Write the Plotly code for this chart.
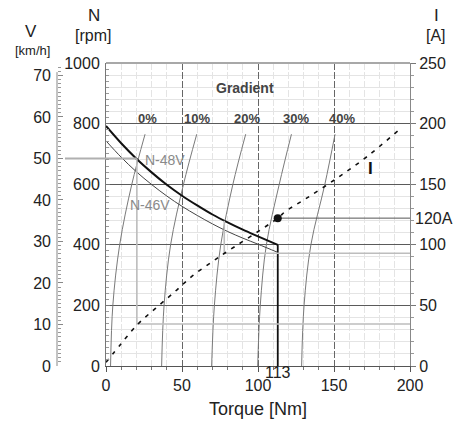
import plotly.graph_objects as go

# ---------------- data ----------------
TORQUE_TICKS = [0, 50, 100, 150, 200]
N_TICKS = [0, 200, 400, 600, 800, 1000]
I_TICKS = [0, 50, 100, 150, 200, 250]
V_TICKS = [0, 10, 20, 30, 40, 50, 60, 70]
N_MAX = 1000
I_MAX = 250
V_AT_NMAX = 73.0

# motor speed curves (torque Nm -> speed rpm)
N48_T = [0, 10, 20, 30, 40, 50, 60, 70, 80, 90, 100, 113]
N48_N = [792, 735, 684, 639, 598, 562, 530, 500, 474, 450, 428, 400]
N46_T = [0, 10, 20, 30, 40, 50, 60, 70, 80, 90, 100, 113]
N46_N = [743, 689, 641, 599, 561, 527, 497, 469, 444, 422, 402, 375]
STALL_T = [113, 113]
STALL_N = [400, 0]

# gradient (road load) curves: torque at given speed
GRAD_LABELS = ["0%", "10%", "20%", "30%", "40%"]
GRAD_N = [0, 200, 400, 600, 765]
GRAD_T = [
    [3.0, 4.5, 9.0, 17.0, 25.7],
    [36.6, 38.2, 42.5, 51.0, 59.7],
    [69.5, 71.3, 75.5, 83.5, 91.9],
    [99.8, 101.5, 105.5, 114.0, 122.0],
    [128.7, 130.3, 134.8, 144.0, 150.7],
]

# current curve (torque Nm -> current A)
I_T = [0, 10, 21, 33, 45, 57, 71, 78, 113, 118, 132, 152, 172, 192]
I_A = [3, 18.5, 34.6, 48, 61, 74.5, 87, 93, 122, 127.5, 138.5, 155, 173, 194]

# operating points
OP0_T, OP0_N, OP0_I, OP0_V = 20.3, 683, 34.6, 50
OP20_T, OP20_N, OP20_I = 77.8, 479, 93
OPMAX_T, OPMAX_I = 113, 122

# ---------------- layout geometry ----------------
W, H = 455, 421
ML, MR, MT, MB = 40, 45, 63, 55
PW = W - ML - MR
DOM0 = 66 / PW
VAXIS_POS = 17 / PW
FONT = "Liberation Sans, Arial, sans-serif"
I_PER_N = I_MAX / N_MAX

fig = go.Figure()

# helper lines for operating points (on current axis)
LIGHT = "#bdbdbd"
fig.add_trace(go.Scatter(x=[OP0_T, OP0_T, 200], y=[OP0_N * I_PER_N, OP0_I, OP0_I],
                         yaxis="y2", mode="lines", line=dict(color=LIGHT, width=1.6),
                         hoverinfo="skip"))
fig.add_trace(go.Scatter(x=[OP20_T, OP20_T, 200], y=[OP20_N * I_PER_N, OP20_I, OP20_I],
                         yaxis="y2", mode="lines", line=dict(color=LIGHT, width=1.6),
                         hoverinfo="skip"))
fig.add_trace(go.Scatter(x=[OPMAX_T, 200], y=[OPMAX_I, OPMAX_I], yaxis="y2",
                         mode="lines", line=dict(color="#555", width=1), hoverinfo="skip"))
# speed marker line on V axis
fig.add_trace(go.Scatter(x=[0, OP0_T], y=[OP0_V, OP0_V], yaxis="y3", mode="lines",
                         line=dict(color="#b0b0b0", width=2), hoverinfo="skip"))

# gradient curves
for t in GRAD_T:
    fig.add_trace(go.Scatter(x=t, y=GRAD_N, mode="lines", line=dict(color="#7a7a7a", width=1),
                             line_shape="spline", hoverinfo="skip"))

# current curve
fig.add_trace(go.Scatter(x=I_T, y=I_A, yaxis="y2", mode="lines", line_shape="spline",
                         line=dict(color="#111", width=1.6, dash="4px,6px"), hoverinfo="skip"))

# motor curves
fig.add_trace(go.Scatter(x=N46_T, y=N46_N, mode="lines", line_shape="spline",
                         line=dict(color="#444", width=1), hoverinfo="skip"))
fig.add_trace(go.Scatter(x=N48_T, y=N48_N, mode="lines", line_shape="spline",
                         line=dict(color="#111", width=2), hoverinfo="skip"))
fig.add_trace(go.Scatter(x=STALL_T, y=STALL_N, mode="lines",
                         line=dict(color="#111", width=1.8), hoverinfo="skip"))
fig.add_trace(go.Scatter(x=[OPMAX_T], y=[OPMAX_I], yaxis="y2", mode="markers",
                         marker=dict(color="#111", size=8), hoverinfo="skip"))

tickfont = dict(family=FONT, size=16, color="#222")
fig.update_layout(
    width=W, height=H, margin=dict(l=ML, r=MR, t=MT, b=MB, autoexpand=False),
    paper_bgcolor="white", plot_bgcolor="white", showlegend=False,
    font=dict(family=FONT, size=16, color="#222"),
    xaxis=dict(domain=[DOM0, 1], range=[0, 200], tickvals=TORQUE_TICKS,
               ticks="outside", ticklen=5, tickcolor="#555", tickfont=tickfont,
               showline=True, linecolor="#555", linewidth=1, zeroline=False,
               showgrid=True, gridcolor="#666", gridwidth=1, griddash="7px,2px",
               automargin=False,
               minor=dict(dtick=10, ticks="outside", ticklen=3, tickcolor="#777",
                          showgrid=True, gridcolor="#e4e4e4")),
    yaxis=dict(range=[0, N_MAX], tickvals=N_TICKS, ticks="inside", ticklen=4,
               tickcolor="#777", tickfont=tickfont, showline=True, linecolor="#777",
               zeroline=False, showgrid=True, gridcolor="#5a5a5a", gridwidth=1,
               ticklabelstandoff=2, automargin=False,
               minor=dict(dtick=20, ticks="inside", ticklen=3, tickcolor="#999",
                          showgrid=False)),
    yaxis2=dict(overlaying="y", side="right", anchor="x", range=[0, I_MAX],
                tickvals=I_TICKS, ticks="outside", ticklen=5, tickcolor="#777",
                tickfont=tickfont, showline=True, linecolor="#888", zeroline=False,
                showgrid=False, automargin=False,
                minor=dict(dtick=10, ticks="outside", ticklen=3, tickcolor="#999",
                           showgrid=True, gridcolor="#e4e4e4")),
    yaxis3=dict(overlaying="y", side="left", anchor="free", position=VAXIS_POS,
                range=[0, V_AT_NMAX], tickvals=V_TICKS, ticks="inside", ticklen=5,
                tickcolor="#888", tickfont=tickfont, showline=False, zeroline=False,
                showgrid=False, ticklabelstandoff=6, automargin=False,
                minor=dict(dtick=1, ticks="inside", ticklen=3, tickcolor="#999",
                           showgrid=False)),
)

shapes = [
    # top frame
    dict(type="line", xref="paper", yref="paper", x0=DOM0, x1=1, y0=1, y1=1,
         line=dict(color="#a8a8a8", width=2)),
    # V axis line
    dict(type="line", xref="paper", yref="y3", x0=VAXIS_POS, x1=VAXIS_POS, y0=0, y1=70.8,
         line=dict(color="#888", width=1)),
    # 50 km/h line outside plot
    dict(type="line", xref="paper", yref="y3", x0=VAXIS_POS + 8 / PW, x1=DOM0,
         y0=OP0_V, y1=OP0_V, line=dict(color="#b0b0b0", width=2)),
]
fig.update_layout(shapes=shapes)

ann = []
def A(text, x, y, xref="paper", yref="paper", size=16, color="#222", bold=False, **kw):
    t = f"<b>{text}</b>" if bold else text
    d = dict(text=t, x=x, y=y, xref=xref, yref=yref, showarrow=False,
             xanchor="center", yanchor="middle",
             font=dict(family=FONT, size=size, color=color))
    d.update(kw)
    ann.append(d)

def px_x(px):
    return (px - ML) / PW

def px_y(py):
    return (H - MB - py) / (H - MT - MB)

A("N", px_x(94), px_y(15), size=17)
A("[rpm]", px_x(93), px_y(36), size=16)
A("V", px_x(31), px_y(32), size=17)
A("[km/h]", px_x(32), px_y(50), size=13)
A("I", px_x(436), px_y(15), size=17)
A("[A]", px_x(436), px_y(36), size=16)
A("Torque [Nm]", 100, px_y(409), xref="x", size=18)
A("113", 113, 0, xref="x", size=16, yshift=-6)
A("120A", px_x(413), OPMAX_I, yref="y2", size=16, xanchor="left")
A("Gradient", 91.5, 917, xref="x", yref="y", size=14, color="#444", bold=True)
for lab, tx in zip(GRAD_LABELS, [27, 60, 92.6, 125, 155]):
    A(lab, tx, 818, xref="x", yref="y", size=13, color="#444", bold=True)
A("N-48V", 39, 680, xref="x", yref="y", size=14, color="#8a8a8a")
A("N-46V", 29, 531, xref="x", yref="y", size=14, color="#8a8a8a")
A("I", 173.7, 163, xref="x", yref="y2", size=17, color="#111", bold=True)
fig.update_layout(annotations=ann)

fig.write_html("out.html")
